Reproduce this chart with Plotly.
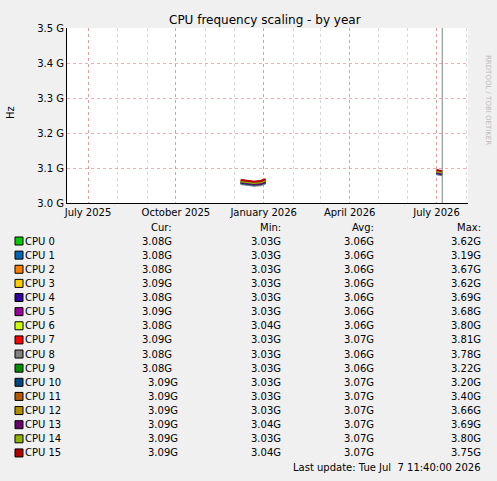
import plotly.graph_objects as go

cpus = [f"CPU {i}" for i in range(16)]
colors = ["#00CC00","#0066B3","#FF8000","#FFCC00","#330099","#990099","#CCFF00","#FF0000",
          "#808080","#008F00","#00487D","#B35A00","#B38F00","#6B006B","#8FB300","#B30000"]
cur = ["3.08G","3.08G","3.08G","3.09G","3.08G","3.09G","3.08G","3.09G","3.08G","3.08G","3.09G","3.09G","3.09G","3.09G","3.09G","3.09G"]
mn  = ["3.03G","3.03G","3.03G","3.03G","3.03G","3.03G","3.04G","3.03G","3.03G","3.03G","3.03G","3.03G","3.03G","3.04G","3.03G","3.04G"]
avg = ["3.06G","3.06G","3.06G","3.06G","3.06G","3.06G","3.06G","3.07G","3.06G","3.06G","3.07G","3.07G","3.07G","3.07G","3.07G","3.07G"]
mx  = ["3.62G","3.19G","3.67G","3.62G","3.69G","3.68G","3.80G","3.81G","3.78G","3.22G","3.20G","3.40G","3.66G","3.69G","3.80G","3.75G"]

dates1 = ["2025-12-08","2025-12-15","2025-12-22","2025-12-29","2026-01-03"]
base1 = [3.060, 3.058, 3.055, 3.057, 3.062]
dates2 = ["2026-07-01","2026-07-04","2026-07-07"]
base2 = [3.088, 3.086, 3.085]
offsets = [0.000,-0.004,0.002,0.001,-0.003,-0.002,0.003,0.005,-0.006,0.000,-0.003,0.002,0.001,-0.001,0.002,0.006]

fig = go.Figure()
for i, c in enumerate(cpus):
    for d, b in ((dates1, base1), (dates2, base2)):
        fig.add_trace(go.Scatter(x=d, y=[(v + offsets[i]) * 1e9 for v in b],
                                 mode="lines", line=dict(color=colors[i], width=2),
                                 showlegend=False, hoverinfo="skip"))

fig.add_shape(type="line", x0="2026-07-07", x1="2026-07-07", y0=0, y1=1, yref="paper",
              line=dict(color="#808080", width=1))

X0, X1, Y0, Y1 = 67, 468, 28, 203
annots = []
def A(text, x, y, anchor="left", size=10, color="#000", angle=0):
    annots.append(dict(text=text, x=(x - X0) / (X1 - X0), y=(Y1 - y) / (Y1 - Y0),
                       xref="paper", yref="paper", xanchor=anchor, yanchor="middle",
                       showarrow=False, textangle=angle,
                       font=dict(family="DejaVu Sans", size=size, color=color)))
A("CPU frequency scaling - by year", 265, 20, "center", 12)
A("Hz", 10, 113, "center", 10, angle=-90)
A("RRDTOOL / TOBI OETIKER", 488, 100, "center", 7, color="#bbbbbb", angle=90)
A("Cur:", 174, 227, "right"); A("Min:", 283, 227, "right"); A("Avg:", 376, 227, "right"); A("Max:", 483, 227, "right")
for i, c in enumerate(cpus):
    y = 241 + i * 14.13
    A(c, 23, y)
    A(cur[i], 180 if i >= 10 else 174, y, "right")
    A(mn[i], 283, y, "right")
    A(avg[i], 376, y, "right")
    A(mx[i], 483, y, "right")
    fig.add_shape(type="rect", xref="paper", yref="paper",
                  x0=(15 - X0) / (X1 - X0), x1=(23 - X0) / (X1 - X0),
                  y0=(Y1 - (y + 4)) / (Y1 - Y0), y1=(Y1 - (y - 4)) / (Y1 - Y0),
                  fillcolor=colors[i], line=dict(color="#000", width=1))
A("Last update: Tue Jul  7 11:40:00 2026", 483, 467, "right")

fig.update_layout(
    width=497, height=481, margin=dict(l=X0, r=497 - X1, t=Y0, b=481 - Y1),
    paper_bgcolor="#F0F0F0", plot_bgcolor="#FFFFFF",
    annotations=annots, showlegend=False,
    xaxis=dict(range=["2025-06-09", "2026-08-03"], type="date",
               tickvals=["2025-07-01","2025-10-01","2026-01-01","2026-04-01","2026-07-01"],
               ticktext=["July 2025","October 2025","January 2026","April 2026","July 2026"],
               showgrid=True, gridcolor="rgba(230,120,120,0.6)", griddash="dot", gridwidth=1,
               minor=dict(dtick="M1", showgrid=True, gridcolor="rgba(200,200,200,0.7)", griddash="dot"),
               tickfont=dict(family="DejaVu Sans", size=10, color="#000"),
               showline=True, linecolor="#000", zeroline=False, ticks=""),
    yaxis=dict(range=[3.0e9, 3.5e9], tickvals=[3.0e9,3.1e9,3.2e9,3.3e9,3.4e9,3.5e9],
               ticktext=["3.0 G","3.1 G","3.2 G","3.3 G","3.4 G","3.5 G"],
               showgrid=True, gridcolor="rgba(230,120,120,0.6)", griddash="dot",
               tickfont=dict(family="DejaVu Sans", size=10, color="#000"),
               showline=True, linecolor="#000", zeroline=False, ticks=""),
)
fig.write_html("out.html", config={"displayModeBar": False})
with open("out.html") as f:
    html = f.read()
html = html.replace("<head>", "<head><style>body{margin:0}</style>", 1)
with open("out.html", "w") as f:
    f.write(html)
